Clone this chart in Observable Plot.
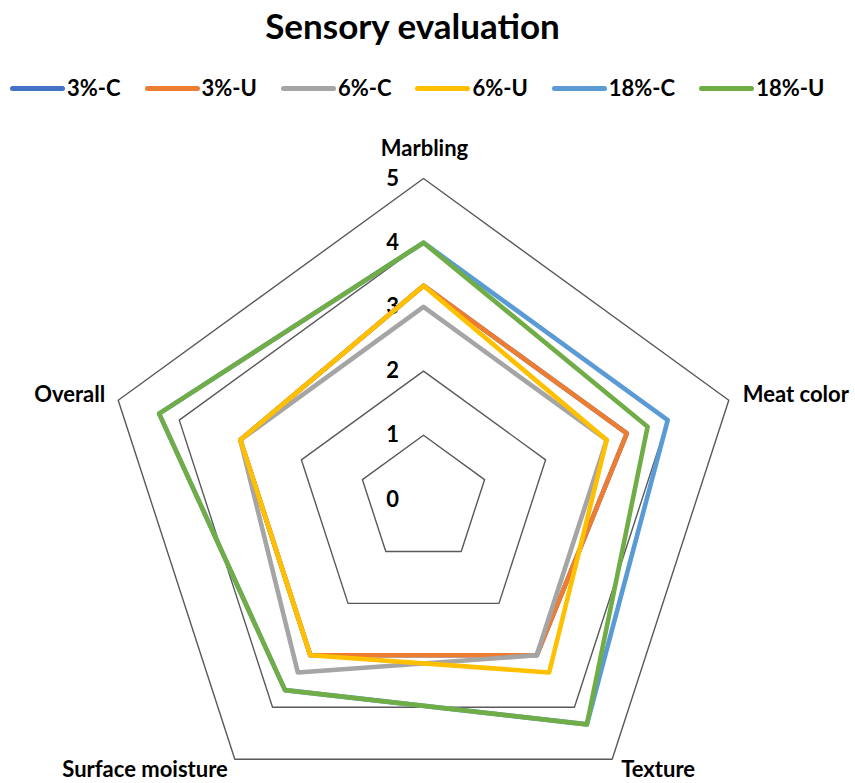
<!DOCTYPE html>
<html>
<head>
<meta charset="utf-8">
<script src="https://cdn.jsdelivr.net/npm/d3@7"></script>
<script src="https://cdn.jsdelivr.net/npm/@observablehq/plot@0.6"></script>
<style>
  html, body { margin: 0; padding: 0; background: #fff; }
  body { width: 855px; height: 783px; position: relative; overflow: hidden;
         font-family: Lato, "Open Sans", sans-serif; font-weight: bold; color: #000; }
  #title { position: absolute; left: 0; top: 3px; width: 825px; text-align: center;
           font-size: 35px; line-height: 44px; }
  #legend { position: absolute; left: 10px; top: 73px; display: flex; gap: 24px;
            font-size: 22px; line-height: 30px; }
  .item { display: flex; align-items: center; }
  .swatch { width: 55px; height: 5px; border-radius: 3px; margin-right: 2px; }
  #chart { position: absolute; left: 0; top: 110px; }
</style>
</head>
<body>
<div id="title">Sensory evaluation</div>
<div id="legend"></div>
<div id="chart"></div>
<script>
// Sensory attributes, one spoke each (clockwise from the top)
const categories = ["Marbling", "Meat color", "Texture", "Surface moisture", "Overall"];

// Treatments and their Excel-style series colours
const seriesNames = ["3%-C", "3%-U", "6%-C", "6%-U", "18%-C", "18%-U"];
const seriesColors = ["#4472C4", "#ED7D31", "#A5A5A5", "#FFC000", "#5B9BD5", "#70AD47"];

// Mean panel scores per attribute, in category order
const scores3C  = [3.33, 3.33, 3.0, 3.0, 3.0];
const scores3U  = [3.33, 3.33, 3.0, 3.0, 3.0];
const scores6C  = [3.0, 3.0, 3.0, 3.33, 3.0];
const scores6U  = [3.33, 3.0, 3.33, 3.0, 3.0];
const scores18C = [4.0, 4.0, 4.33, 3.67, 4.33];
const scores18U = [4.0, 3.67, 4.33, 3.67, 4.33];

// Radial gridlines and tick labels
const gridLevels = [1, 2, 3, 4, 5];
const tickValues = [0, 1, 2, 3, 4, 5];

const allScores = [scores3C, scores3U, scores6C, scores6U, scores18C, scores18U];

// Layout of the radar inside the SVG
const W = 855, H = 673;
const cx = 423, cy = 389, unit = 64.2;   // centre in px, px per score point

const angle = i => (i * 2 * Math.PI) / categories.length;
const polar = (i, v) => ({ x: v * Math.sin(angle(i)), y: v * Math.cos(angle(i)) });

// Long table of series points
const points = [];
seriesNames.forEach((s, k) => {
  allScores[k].forEach((v, i) => points.push({ series: s, category: categories[i], value: v, ...polar(i, v) }));
});

// Pentagonal gridlines
const grid = [];
gridLevels.forEach(level => categories.forEach((c, i) => grid.push({ level, ...polar(i, level) })));

// Attribute labels with their placement around the outer ring
const labelStyle = {
  "Marbling":         { anchor: "middle", dx: 1,   dy: -30 },
  "Meat color":       { anchor: "start",  dx: 14,  dy: -5 },
  "Texture":          { anchor: "start",  dx: 9,   dy: 11 },
  "Surface moisture": { anchor: "end",    dx: -7,  dy: 11 },
  "Overall":          { anchor: "end",    dx: -13, dy: -5 }
};
const labelMarks = categories.map((c, i) =>
  Plot.text([{ c, ...polar(i, 5) }], {
    x: "x", y: "y", text: "c",
    textAnchor: labelStyle[c].anchor, dx: labelStyle[c].dx, dy: labelStyle[c].dy,
    fontSize: 22, fontWeight: "bold", fill: "#000"
  })
);

const plot = Plot.plot({
  width: W, height: H,
  margin: 0,
  style: { fontFamily: "Lato, 'Open Sans', sans-serif", background: "#fff", overflow: "visible" },
  x: { domain: [-cx / unit, (W - cx) / unit], axis: null },
  y: { domain: [-(H - cy) / unit, cy / unit], axis: null },
  color: { domain: seriesNames, range: seriesColors },
  marks: [
    Plot.line(grid, { x: "x", y: "y", z: "level", curve: "linear-closed", stroke: "#595959", strokeWidth: 1.4 }),
    Plot.text(tickValues, {
      x: 0, y: d => d, text: d => String(d), dx: -31,
      fontSize: 22, fontWeight: "bold", fill: "#000"
    }),
    Plot.line(points, {
      x: "x", y: "y", z: "series", stroke: "series", curve: "linear-closed",
      strokeWidth: 4.6, strokeLinejoin: "round"
    }),
    ...labelMarks
  ]
});
document.getElementById("chart").appendChild(plot);

// Legend above the chart
const legend = d3.select("#legend");
seriesNames.forEach((s, k) => {
  const item = legend.append("div").attr("class", "item");
  item.append("div").attr("class", "swatch").style("background", seriesColors[k]);
  item.append("span").text(s);
});
</script>
</body>
</html>
